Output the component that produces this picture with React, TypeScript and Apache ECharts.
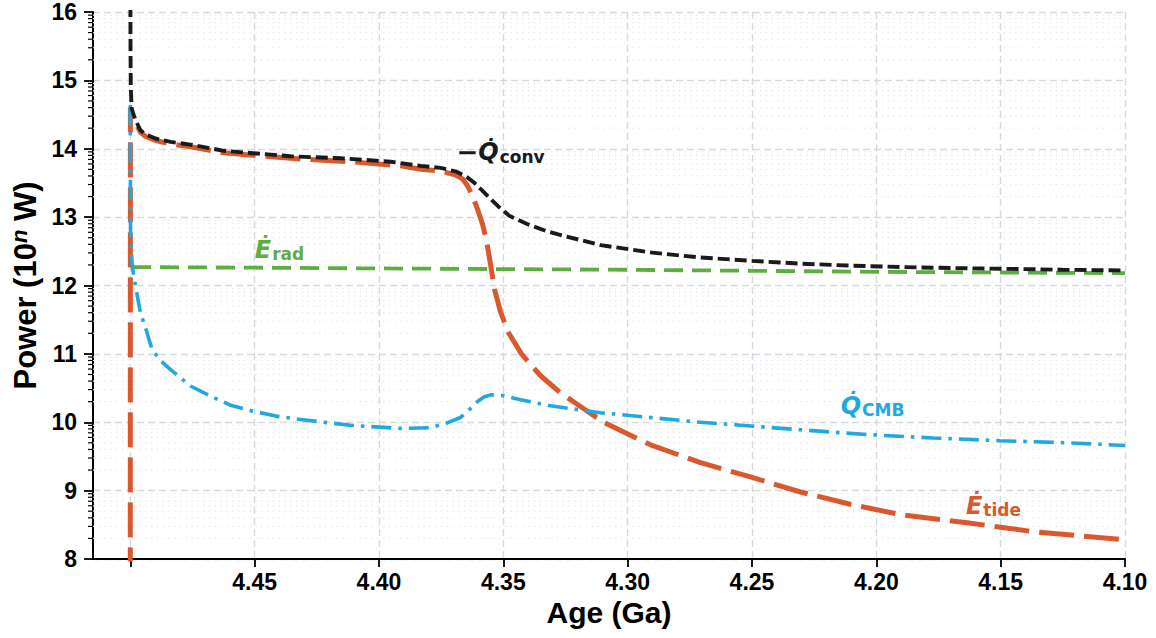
import React, { useEffect, useRef } from 'react';
import * as echarts from 'echarts';

// ---- Data ----
const CONV_AGE = [4.49998, 4.4999, 4.4998, 4.4996, 4.4995, 4.4986, 4.4975, 4.4959, 4.4938, 4.4898, 4.4838, 4.4758, 4.4624, 4.4356, 4.415, 4.3953, 4.3832, 4.3753, 4.3692, 4.3664, 4.3644, 4.3619, 4.3585, 4.3552, 4.3515, 4.3476, 4.3404, 4.333, 4.325, 4.3108, 4.29, 4.2708, 4.25, 4.2306, 4.21, 4.19, 4.17, 4.15, 4.125, 4.10];
const CONV_VAL = [16.6, 15.4, 14.9, 14.72, 14.6, 14.49, 14.39, 14.27, 14.21, 14.15, 14.10, 14.06, 13.97, 13.89, 13.86, 13.81, 13.75, 13.72, 13.67, 13.62, 13.58, 13.51, 13.39, 13.27, 13.14, 13.02, 12.90, 12.80, 12.72, 12.59, 12.48, 12.41, 12.36, 12.32, 12.29, 12.27, 12.255, 12.245, 12.23, 12.22];

const TIDE_AGE = [4.5, 4.49995, 4.4996, 4.4986, 4.4975, 4.4959, 4.4938, 4.4898, 4.4838, 4.4758, 4.4624, 4.4315, 4.4114, 4.3913, 4.3832, 4.3753, 4.3693, 4.3664, 4.3644, 4.3624, 4.3604, 4.3583, 4.3567, 4.3551, 4.3535, 4.3511, 4.3479, 4.3427, 4.335, 4.327, 4.3169, 4.3097, 4.2908, 4.2707, 4.2506, 4.2305, 4.2105, 4.1904, 4.1635, 4.1369, 4.10];
const TIDE_VAL = [7.0, 14.6, 14.52, 14.44, 14.35, 14.24, 14.18, 14.12, 14.07, 14.03, 13.94, 13.85, 13.81, 13.75, 13.70, 13.675, 13.62, 13.56, 13.46, 13.31, 13.12, 12.89, 12.64, 12.30, 11.94, 11.61, 11.31, 11.0, 10.68, 10.43, 10.18, 10.0, 9.67, 9.41, 9.20, 8.98, 8.80, 8.65, 8.53, 8.40, 8.28];

const CMB_AGE = [4.5, 4.49995, 4.4999, 4.4992, 4.4979, 4.4959, 4.4938, 4.4912, 4.4878, 4.4838, 4.4798, 4.4758, 4.4665, 4.4597, 4.4516, 4.4415, 4.4315, 4.4114, 4.3913, 4.3792, 4.3726, 4.3672, 4.3638, 4.3605, 4.3578, 4.3551, 4.3499, 4.3431, 4.331, 4.311, 4.2708, 4.2306, 4.2037, 4.1772, 4.1502, 4.1233, 4.10];
const CMB_VAL = [14.64, 13.6, 12.77, 12.28, 11.99, 11.6, 11.37, 11.06, 10.90, 10.77, 10.65, 10.53, 10.36, 10.25, 10.17, 10.09, 10.04, 9.955, 9.91, 9.92, 9.99, 10.07, 10.18, 10.30, 10.37, 10.40, 10.39, 10.33, 10.24, 10.14, 10.0, 9.89, 9.82, 9.77, 9.73, 9.70, 9.66];

const RAD_AGE = [4.4993, 4.45, 4.40, 4.35, 4.30, 4.25, 4.20, 4.15, 4.10];
const RAD_VAL = [12.27, 12.26, 12.25, 12.24, 12.23, 12.215, 12.20, 12.19, 12.18];

const X_TICKS = [4.10, 4.15, 4.20, 4.25, 4.30, 4.35, 4.40, 4.45, 4.50];
const X_TICK_LABELS = ['4.10', '4.15', '4.20', '4.25', '4.30', '4.35', '4.40', '4.45'];
const Y_DECADES = [8, 9, 10, 11, 12, 13, 14, 15];
const MINOR_MULTIPLIERS = [2, 3, 4, 5, 6, 7, 8, 9];

const X_MIN = 4.10;
const X_MAX = 4.515;

const C_BLACK = '#1a1a1a';
const C_TIDE = '#d9582d';
const C_RAD = '#5bae3f';
const C_CMB = '#22a7de';

const pairs = (xs: number[], ys: number[]) => xs.map((x, i) => [x, ys[i]]);

const minorY: number[] = [];
Y_DECADES.forEach((d) => MINOR_MULTIPLIERS.forEach((m) => minorY.push(d + Math.log10(m))));

const labelRich = (color: string) => ({
  m: { fontFamily: 'DejaVu Sans', fontWeight: 'bold', fontSize: 26, color },
  q: { fontFamily: 'DejaVu Sans', fontWeight: 'bold', fontStyle: 'italic', fontSize: 24, color },
  s: { fontFamily: 'DejaVu Sans', fontWeight: 'bold', fontSize: 17, color, padding: [9, 0, 0, 1] },
});

const mp = (coord: number[], text: string, color: string) => ({
  silent: true,
  symbol: 'circle',
  symbolSize: 0,
  data: [
    {
      coord,
      label: {
        show: true,
        position: 'inside',
        formatter: text,
        rich: labelRich(color),
      },
    },
  ],
});

export default function App() {
  const ref = useRef<HTMLDivElement>(null);
  useEffect(() => {
    if (!ref.current) return;
    const chart = echarts.init(ref.current, null, { renderer: 'svg' });
    const axisFont = { fontFamily: 'Liberation Sans', fontWeight: 'bold', fontSize: 23, color: '#000' };
    chart.setOption({
      animation: false,
      grid: { left: 92, right: 31, top: 12, bottom: 79 },
      xAxis: {
        type: 'value',
        inverse: true,
        min: X_MIN,
        max: X_MAX,
        interval: 0.05,
        name: 'Age (Ga)',
        nameLocation: 'middle',
        nameGap: 34,
        nameTextStyle: { fontFamily: 'Liberation Sans', fontWeight: 'bold', fontSize: 30, color: '#000' },
        axisLine: { show: true, onZero: false, lineStyle: { color: '#000', width: 2 } },
        axisTick: { show: true, length: 8, lineStyle: { color: '#000', width: 1.8 }, customValues: X_TICKS },
        axisLabel: {
          ...axisFont,
          margin: 11,
          customValues: X_TICKS,
          formatter: (v: number) => {
            const s = v.toFixed(2);
            return X_TICK_LABELS.includes(s) ? s : '';
          },
        },
        splitLine: { show: true, lineStyle: { color: '#d5d9e0', width: 1.4, type: [7, 4] } },
      },
      yAxis: {
        type: 'value',
        min: 8,
        max: 16,
        interval: 1,
        name: 'Power (10{sup|n} W)',
        nameLocation: 'middle',
        nameGap: 50,
        nameTextStyle: {
          fontFamily: 'Liberation Sans',
          fontWeight: 'bold',
          fontSize: 31,
          color: '#000',
          rich: {
            sup: { fontFamily: 'Liberation Sans', fontWeight: 'bold', fontStyle: 'italic', fontSize: 22, color: '#000', padding: [0, 0, 12, 0] },
          },
        },
        axisLine: { show: true, lineStyle: { color: '#000', width: 2 } },
        axisTick: { show: true, length: 9, lineStyle: { color: '#000', width: 1.8 } },
        axisLabel: { ...axisFont, margin: 16 },
        splitLine: { show: true, lineStyle: { color: '#d5d9e0', width: 1.4, type: [7, 4] } },
      },
      series: [
        {
          type: 'custom',
          silent: true,
          clip: false,
          z: 1,
          data: minorY.map((y) => [X_MIN, y]),
          encode: { x: 0, y: 1 },
          renderItem: (params: any, api: any) => {
            const y = api.value(1);
            const l = api.coord([X_MAX, y]);
            const r = api.coord([X_MIN, y]);
            return {
              type: 'group',
              children: [
                { type: 'line', shape: { x1: l[0], y1: l[1], x2: r[0], y2: r[1] }, style: { stroke: '#e3e6eb', lineWidth: 1.2, lineDash: [1.3, 4.5] } },
                { type: 'line', shape: { x1: l[0] - 5, y1: l[1], x2: l[0], y2: l[1] }, style: { stroke: '#000', lineWidth: 1.2 } },
              ],
            };
          },
        },
        {
          type: 'line',
          data: pairs(TIDE_AGE, TIDE_VAL),
          showSymbol: false,
          symbol: 'none',
          z: 3,
          lineStyle: { color: C_TIDE, width: 5, type: [35, 10] },
          markPoint: mp([4.1529, 8.78], '{q|E\u0307}{s|tide}', C_TIDE),
        },
        {
          type: 'line',
          data: pairs(RAD_AGE, RAD_VAL),
          showSymbol: false,
          symbol: 'none',
          z: 4,
          lineStyle: { color: C_RAD, width: 3.8, type: [19, 9] },
          markPoint: mp([4.44, 12.52], '{q|E\u0307}{s|rad}', C_RAD),
        },
        {
          type: 'line',
          data: pairs(CMB_AGE, CMB_VAL),
          showSymbol: false,
          symbol: 'none',
          z: 5,
          lineStyle: { color: C_CMB, width: 3.6, type: [20, 7, 3.5, 7] },
          markPoint: mp([4.2015, 10.24], '{q|Q\u0307}{s|CMB}', C_CMB),
        },
        {
          type: 'line',
          data: pairs(CONV_AGE, CONV_VAL),
          showSymbol: false,
          symbol: 'none',
          z: 6,
          lineStyle: { color: C_BLACK, width: 3.9, type: [12, 5] },
          markPoint: mp([4.3511, 13.95], '{m|\u2212}{q|Q\u0307}{s|conv}', C_BLACK),
        },
      ],
    });
    return () => chart.dispose();
  }, []);
  return <div ref={ref} style={{ width: 1156, height: 638, position: 'absolute', left: 0, top: 0 }} />;
}
